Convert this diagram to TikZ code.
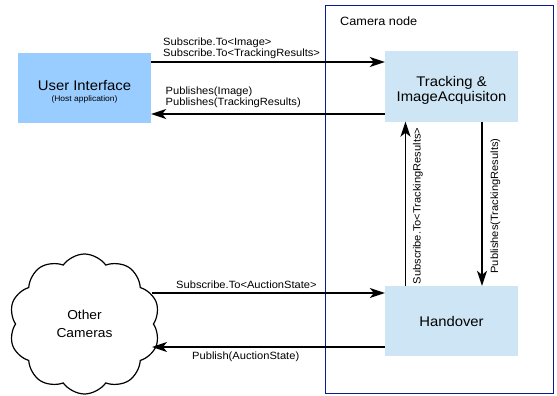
\documentclass[tikz,border=0pt]{standalone}
\usepackage{fontspec}
\setmainfont{Liberation Sans}[FakeStretch=1.06]
\usetikzlibrary{shapes.symbols,arrows.meta}
\definecolor{uiblue}{HTML}{99CCFF}
\definecolor{modblue}{HTML}{CDE5F4}
\definecolor{navy}{HTML}{0A1A8C}
\begin{document}
\begin{tikzpicture}[x=1pt,y=-1pt,
  modbox/.style={fill=modblue, draw=none, minimum width=133pt, minimum height=70pt,
    align=center, inner sep=0pt, font=\fontsize{14}{15}\selectfont},
  lbl/.style={font=\fontsize{10.5}{10.7}\selectfont, align=left, inner sep=0pt},
  arr/.style={-{Stealth[length=15pt,width=10pt,inset=4pt]}, line width=1.4pt}]
\useasboundingbox (0,0) rectangle (557,396);
% container
\node[draw=navy, line width=0.8pt, minimum width=228pt, minimum height=388pt, inner sep=0pt]
  (cam) at (439,199) {};
\node[anchor=north west, inner sep=0pt, font=\fontsize{12}{14}\selectfont] (camlbl) at (340,17) {Camera node};
% boxes
\node[modbox, fill=uiblue, text height=27.7pt, text depth=1.7pt] (ui) at (84.5,88)
  {User Interface\\[-4.7pt]{\fontsize{8}{9}\selectfont (Host application)}};
\node[modbox, text height=33.3pt, text depth=2.9pt] (tr) at (451.5,86.5) {Tracking \&\\ImageAcquisiton};
\node[modbox] (ho) at (451.5,321) {Handover};
\node[cloud, draw, line width=1.2pt, fill=white, cloud puffs=10, cloud puff arc=110,
  minimum width=151pt, minimum height=140pt, inner sep=0pt, align=center,
  font=\fontsize{13}{18}\selectfont] (oc) at (84.5,324) {Other\\Cameras};
% connection points
\coordinate (a1) at ([yshift=26pt]ui.east);
\coordinate (a2) at ([yshift=-26pt]ui.east);
\coordinate (b1) at ([xshift=-46pt]tr.south);
\coordinate (b2) at ([xshift=30.5pt]tr.south);
\coordinate (c1) at (152,293);
\coordinate (c2) at (152,347);
% arrows
\draw[arr] (a1) -- (a1 -| tr.west);
\draw[arr] (a2 -| tr.west) -- (a2);
\draw[arr] (b1 |- ho.north) -- (b1);
\draw[arr] (b2) -- (b2 |- ho.north);
\draw[arr] (c1) -- (c1 -| ho.west);
\draw[arr] (c2 -| ho.west) -- (c2);
% labels
\node[lbl, anchor=north west] (l1) at (163,37.5) {Subscribe.To<Image>\\Subscribe.To<TrackingResults>};
\node[lbl, anchor=north west] (l2) at (165.5,86.5) {Publishes(Image)\\Publishes(TrackingResults)};
\node[lbl, rotate=90] (l3) at (418,206) {Subscribe.To<TrackingResults>};
\node[lbl, rotate=90] (l4) at (495.5,206) {Publishes(TrackingResults)};
\node[lbl, anchor=north west] (l5) at (176,281) {Subscribe.To<AuctionState>};
\node[lbl, anchor=north west] (l6) at (192,352) {Publish(AuctionState)};
\end{tikzpicture}
\end{document}
